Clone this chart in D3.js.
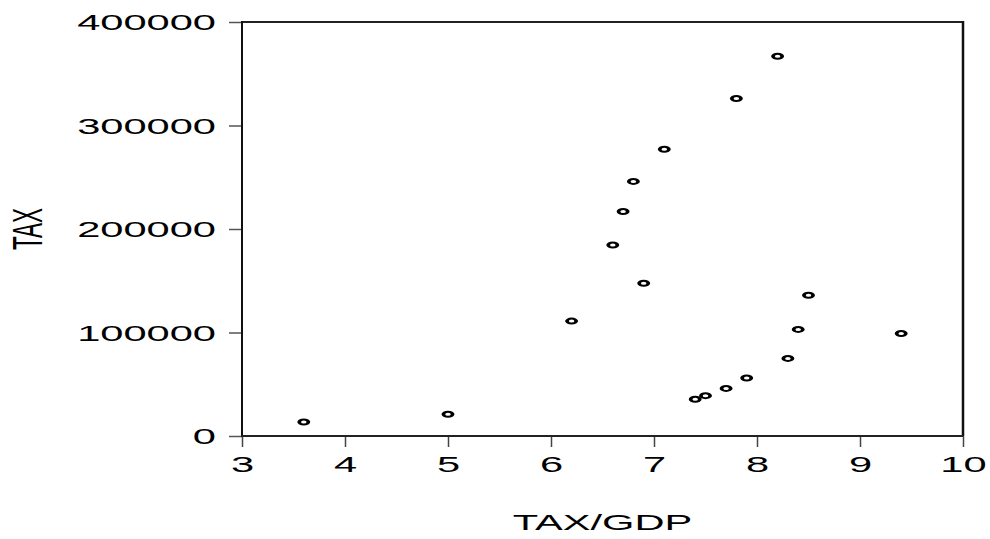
<!DOCTYPE html>
<html>
<head>
<meta charset="utf-8">
<script src="https://cdn.jsdelivr.net/npm/d3@7"></script>
<style>
  body { margin: 0; background: #fff; }
  svg { display: block; }
  text { font-family: "Liberation Sans", Arial, sans-serif; fill: #000; }
</style>
</head>
<body>
<svg id="chart" width="990" height="539"></svg>
<script>
// Data
const taxGdp = [3.6, 5.0, 6.2, 6.6, 6.7, 6.8, 6.9, 7.1, 7.8, 8.2, 8.5, 8.4, 8.3, 7.9, 7.7, 7.5, 7.4, 9.4];
const tax    = [13500, 21000, 111000, 184500, 217000, 246000, 147500, 277000, 326000, 367000, 136000, 103000, 75000, 56000, 46000, 39000, 35500, 99000];
const xTicks = [3, 4, 5, 6, 7, 8, 9, 10];
const yTicks = [0, 100000, 200000, 300000, 400000];
const xLabel = "TAX/GDP";
const yLabel = "TAX";

(function () {
const pL = 242, pR = 963, pT = 22, pB = 436;
const SX = 1.85; // horizontal stretch of the reference image
const FS = 22.5;

const svg = d3.select("#chart");
const x = d3.scaleLinear().domain([3, 10]).range([pL, pR]);
const y = d3.scaleLinear().domain([0, 400000]).range([pB, pT]);

// Y axis
const yAxis = svg.append("g")
  .attr("transform", `translate(${pL},0)`)
  .call(d3.axisLeft(y).tickValues(yTicks).tickSize(13).tickSizeOuter(0).tickFormat(d3.format("d")));
yAxis.select(".domain").remove();
yAxis.selectAll(".tick line").attr("stroke", "#555").attr("stroke-width", 1.5);
yAxis.selectAll(".tick text")
  .attr("x", 0).attr("dy", null).attr("y", 0)
  .attr("transform", `translate(-26,7.5) scale(${SX},1)`)
  .attr("text-anchor", "end")
  .style("font-size", FS + "px")
  .style("font-family", "'Liberation Sans', Arial, sans-serif")
  .attr("fill", "#000");

// X axis
const xAxis = svg.append("g")
  .attr("transform", `translate(0,${pB})`)
  .call(d3.axisBottom(x).tickValues(xTicks).tickSize(11).tickSizeOuter(0).tickFormat(d3.format("d")));
xAxis.select(".domain").remove();
xAxis.selectAll(".tick line").attr("stroke", "#444").attr("stroke-width", 1.5);
xAxis.selectAll(".tick text")
  .attr("y", 0).attr("dy", null)
  .attr("transform", `translate(0,36) scale(${SX},1)`)
  .attr("text-anchor", "middle")
  .style("font-size", FS + "px")
  .style("font-family", "'Liberation Sans', Arial, sans-serif")
  .attr("fill", "#000");

// Frame
svg.append("line").attr("x1", pL).attr("x2", pR).attr("y1", pT).attr("y2", pT)
  .attr("stroke", "#222").attr("stroke-width", 2);
svg.append("line").attr("x1", pR).attr("x2", pR).attr("y1", pT - 1).attr("y2", pB)
  .attr("stroke", "#111").attr("stroke-width", 2.5);
svg.append("line").attr("x1", pL).attr("x2", pL).attr("y1", pT - 1).attr("y2", pB + 1)
  .attr("stroke", "#111").attr("stroke-width", 2);
svg.append("line").attr("x1", pL).attr("x2", pR).attr("y1", pB).attr("y2", pB)
  .attr("stroke", "#222").attr("stroke-width", 2);

// Points (circles stretched horizontally like the reference)
svg.append("g").selectAll("circle")
  .data(taxGdp.map((v, i) => [v, tax[i]]))
  .join("circle")
  .attr("transform", d => `translate(${x(d[0])},${y(d[1])}) scale(${SX},1)`)
  .attr("r", 2.5)
  .attr("fill", "none")
  .attr("stroke", "#000")
  .attr("stroke-width", 2);

// Axis titles
svg.append("text")
  .attr("transform", `translate(${(pL + pR) / 2},530) scale(${SX},1)`)
  .attr("text-anchor", "middle")
  .style("font-size", FS + "px")
  .text(xLabel);

svg.append("text")
  .attr("transform", `translate(42,${(pT + pB) / 2}) scale(${SX},1) rotate(-90)`)
  .attr("text-anchor", "middle")
  .style("font-size", FS + "px")
  .text(yLabel);
})();
</script>
</body>
</html>
